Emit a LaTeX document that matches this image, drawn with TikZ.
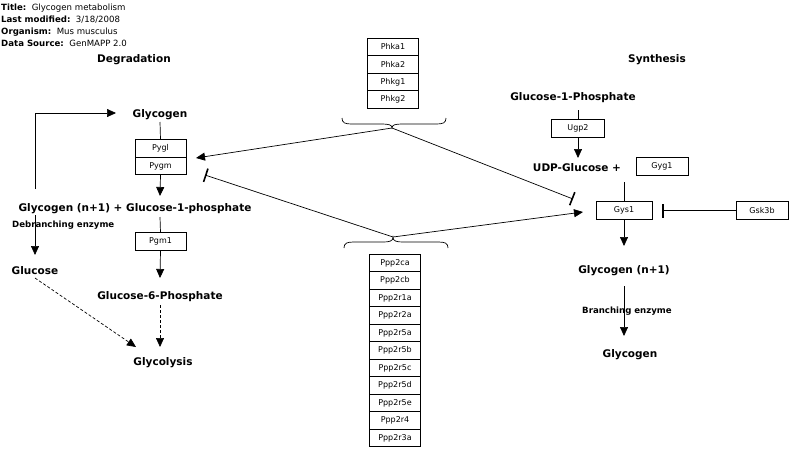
\documentclass[tikz,border=0pt]{standalone}
\usepackage{fontspec}
\setmainfont{DejaVu Sans}
\usetikzlibrary{arrows.meta}
\begin{document}
\begin{tikzpicture}[x=1pt,y=-1pt,
  lbl/.style={font=\bfseries\fontsize{10.5}{12}\selectfont, inner sep=0pt, yshift=-1.5pt},
  small/.style={font=\bfseries\fontsize{8.6}{10}\selectfont, inner sep=0pt, yshift=-1pt},
  gene/.style={draw, line width=0.6pt, minimum width=51pt, minimum height=17.5pt, inner sep=0pt, font=\fontsize{8}{9}\selectfont},
  hdr/.style={anchor=west, inner sep=0pt, font=\fontsize{8.6}{10}\selectfont},
  conn/.style={line width=0.7pt},
  arr/.style={conn, -{Triangle[length=9pt,width=8pt]}},
  inh/.style={conn, -{Bar[width=14pt,line width=1.6pt]}},
  dasharr/.style={conn, dash pattern=on 3pt off 2pt, -{Triangle[length=9pt,width=8pt]}}]
\useasboundingbox (0,0) rectangle (800,459);
% header
\node[hdr] (h1) at (1,8) {\textbf{Title:}\ \ Glycogen metabolism};
\node[hdr] (h2) at (1,20) {\textbf{Last modified:}\ \ 3/18/2008};
\node[hdr] (h3) at (1,32) {\textbf{Organism:}\ \ Mus musculus};
\node[hdr] (h4) at (1,43) {\textbf{Data Source:}\ \ GenMAPP 2.0};
\node[lbl] (deg) at (134,58) {Degradation};
\node[lbl] (syn) at (657,58) {Synthesis};
% Phk group
\node[gene] (phka1) at (393,47) {Phka1};
\node[gene] (phka2) at (393,64.5) {Phka2};
\node[gene] (phkg1) at (393,82) {Phkg1};
\node[gene] (phkg2) at (393,99.5) {Phkg2};
\coordinate (ttip) at (392,128);
\draw[conn] (342,118) .. controls (342,123) and (345,124) .. (352,124) -- (382,124) .. controls (389,124) and (392,125) .. (ttip)
  .. controls (392,125) and (395,124) .. (402,124) -- (436,124) .. controls (443,124) and (446,123) .. (446,118);
% Ppp2 group
\foreach \n [count=\i from 0] in {Ppp2ca,Ppp2cb,Ppp2r1a,Ppp2r2a,Ppp2r5a,Ppp2r5b,Ppp2r5c,Ppp2r5d,Ppp2r5e,Ppp2r4,Ppp2r3a}
  \node[gene] (p\i) at (395,263+17.5*\i) {\n};
\coordinate (btip) at (393,237);
\draw[conn] (344,248) .. controls (344,243) and (347,242) .. (354,242) -- (383,242) .. controls (390,242) and (393,241) .. (btip)
  .. controls (393,241) and (396,242) .. (403,242) -- (438,242) .. controls (445,242) and (448,243) .. (448,248);
% Degradation
\node[lbl] (glyc) at (160,113) {Glycogen};
\node[gene] (pygl) at (160.5,148.5) {Pygl};
\node[gene] (pygm) at (160.5,166) {Pygm};
\node[lbl] (gn1) at (135,207) {Glycogen (n+1) + Glucose-1-phosphate};
\node[small, anchor=west] (deb) at (12,224) {Debranching enzyme};
\node[lbl] (gluc) at (35,269) {Glucose};
\node[gene] (pgm1) at (160.5,241.5) {Pgm1};
\node[lbl] (g6p) at (160,295) {Glucose-6-Phosphate};
\node[lbl] (glyco) at (163,361) {Glycolysis};
\draw[conn] (160,122) -- (pygl.north);
\draw[arr] (pygm.south) -- (160,196);
\draw[conn] (160,217) -- (pgm1.north);
\draw[arr] (pgm1.south) -- (160,278);
\draw[dasharr] (160,305) -- (160,347);
\draw[dasharr] (35,278) -- (136,347);
\coordinate (lc) at (35,189);
\draw[arr] (lc) -- (35,113) -- (116,113);
\draw[arr] (35,215) -- (35,255);
% links from groups
\draw[arr] (ttip) -- (196,158);
\draw[inh] (btip) -- (205,175);
% Synthesis
\node[lbl] (g1p) at (573,96) {Glucose-1-Phosphate};
\node[gene, minimum width=53pt] (ugp2) at (578,128.5) {Ugp2};
\node[lbl] (udp) at (577,166) {UDP-Glucose +};
\node[gene, minimum width=52pt] (gyg1) at (662,166.5) {Gyg1};
\node[gene, minimum width=56pt] (gys1) at (624,210.5) {Gys1};
\node[gene, minimum width=52pt] (gsk) at (762,210.5) {Gsk3b};
\node[lbl] (gn1r) at (624,269) {Glycogen (n+1)};
\node[small] (bre) at (627,310) {Branching enzyme};
\node[lbl] (glycr) at (630,353) {Glycogen};
\draw[conn] (578,110) -- (ugp2.north);
\draw[arr] (ugp2.south) -- (578,158);
\draw[conn] (624,182) -- (gys1.north);
\draw[arr] (gys1.south) -- (624,246);
\draw[inh] (gsk.west) -- (662,210.5);
\draw[arr] (624,286) -- (624,336);
\draw[inh] (ttip) -- (573,199);
\draw[arr] (btip) -- (583,212);
\end{tikzpicture}
\end{document}
